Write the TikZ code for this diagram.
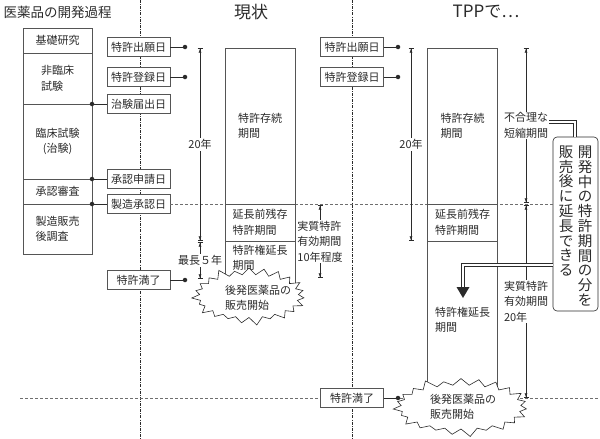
\documentclass[tikz,border=0pt]{standalone}
\usepackage{fontspec}
\setmainfont{Noto Sans CJK JP}
\usetikzlibrary{arrows.meta,positioning,shapes.symbols}
\definecolor{inkgray}{HTML}{2B2B2B}
\definecolor{boxgray}{HTML}{555555}
\definecolor{guidegray}{HTML}{6E6E6E}
\tikzset{
  every node/.style={font=\fontsize{11}{15.5}\selectfont, text=inkgray},
  stagebox/.style={draw=boxgray, line width=0.6pt, minimum width=69pt, inner sep=0pt, outer sep=0pt, align=center, fill=white},
  datebox/.style={draw=boxgray, line width=0.6pt, fill=white, minimum width=63pt, minimum height=19pt, inner sep=0pt, font=\fontsize{11}{14}\selectfont},
  barbox/.style={draw=boxgray, line width=0.6pt, minimum width=70pt, inner sep=0pt, outer sep=0pt, align=left},
  barside/.style={boxgray, line width=0.6pt},
  dimarrow/.style={inkgray, line width=0.6pt, {Bar[width=5pt]Latex[length=4pt,width=3pt]}-{Latex[length=4pt,width=3pt]Bar[width=5pt]}},
  sessionline/.style={inkgray, line width=0.9pt, dash pattern=on 3pt off 1.2pt on 0.8pt off 1.2pt},
  guide/.style={guidegray, line width=0.6pt, dash pattern=on 3pt off 2pt},
  dot/.style={circle, fill=inkgray, inner sep=0pt, minimum size=4.5pt},
  link/.style={inkgray, line width=0.6pt},
  twinline/.style={draw=inkgray, line width=0.8pt, double=white, double distance=2.2pt},
  burst/.style={starburst, starburst points=23, starburst point height=9pt, draw=inkgray, fill=white, line width=0.6pt, inner sep=0pt},
  labeltext/.style={fill=white, inner sep=1pt, align=left},
  headtext/.style={font=\fontsize{17}{20}\selectfont},
  vtext/.style={align=center, inner sep=0pt, font=\fontsize{14.5}{14.8}\selectfont}
}
\begin{document}
\begin{tikzpicture}[x=1pt,y=-1pt]
  \useasboundingbox (0,0) rectangle (600,439);
  \draw[sessionline] (140,0) -- (140,439);
  \draw[sessionline] (352,0) -- (352,439);
  \draw[guide] (20,398) -- (600,398);

  \node[anchor=west, font=\fontsize{13.5}{16}\selectfont] (title) at (0,12.5) {医薬品の開発過程};
  \node[headtext] (headnow) at (251,12) {現状};
  \node[headtext] (headtpp) at (486,12) {TPPで…};

  % development stages
  \node[stagebox, minimum height=25pt] (basic) at (57.5,40.5) {基礎研究};
  \node[stagebox, minimum height=51pt, below=0pt of basic, align=left] (nonclinical) {非臨床\\試験};
  \node[stagebox, minimum height=75pt, below=0pt of nonclinical] (clinical) {臨床試験\\(治験)};
  \node[stagebox, minimum height=25pt, below=0pt of clinical] (review) {承認審査};
  \node[stagebox, minimum height=50pt, below=0pt of review, align=left] (postmarket) {製造販売\\後調査};

  \node[datebox] (filingnow) at (138.5,47) {特許出願日};
  \node[datebox] (grantnow) at (138.5,77) {特許登録日};
  \node[datebox] (ctn) at (138.5,104) {治験届出日};
  \node[datebox] (nda) at (138.5,179) {承認申請日};
  \node[datebox] (approval) at (138.5,204) {製造承認日};
  \node[datebox] (expirynow) at (138.5,280) {特許満了};
  \node[dot] (dfilingnow) at (185,47) {};
  \node[dot] (dgrantnow) at (185,77) {};
  \node[dot] (dctn) at (nonclinical.south east) {};
  \node[dot] (dnda) at (clinical.south east) {};
  \node[dot] (dapproval) at (review.south east) {};
  \node[dot] (dexpirynow) at (185,280) {};
  \draw[link] (filingnow) -- (dfilingnow);
  \draw[link] (grantnow) -- (dgrantnow);
  \draw[link] (dctn) -- (ctn);
  \draw[link] (dnda) -- (nda);
  \draw[link] (dapproval) -- (approval);
  \draw[link] (expirynow) -- (dexpirynow);

  \node[datebox] (filingtpp) at (352,47) {特許出願日};
  \node[datebox] (granttpp) at (352,77) {特許登録日};
  \node[datebox] (expirytpp) at (352,398) {特許満了};
  \node[dot] (dfilingtpp) at (398,47) {};
  \node[dot] (dgranttpp) at (398,77) {};
  \node[dot] (dexpirytpp) at (398,398) {};
  \draw[link] (filingtpp) -- (dfilingtpp);
  \draw[link] (granttpp) -- (dgranttpp);
  \draw[link] (expirytpp) -- (dexpirytpp);

  % vertical note box
  \node[draw=inkgray, line width=0.6pt, rounded corners=4pt, fill=white, minimum width=45pt, minimum height=174pt] (shiftbox) at (575.5,224) {};
  \node[vtext] (shiftright) at (585,226) {開\\発\\中\\の\\特\\許\\期\\間\\の\\分\\を};
  \node[vtext] (shiftleft) at (566,211) {販\\売\\後\\に\\延\\長\\で\\き\\る};
  \draw[guide] (approval.east) -- (shiftbox.west |- approval.east);

  % current term bar
  \node[barbox, minimum height=156pt, anchor=north] (termnow) at (260,48) {特許存続\\期間};
  \node[barbox, minimum height=37pt, below=0pt of termnow] (restnow) {延長前残存\\特許期間};
  \node[align=left] (extnow) at (260,258) {特許権延長\\期間};
  \draw[barside] (restnow.south west) -- ++(0,45);
  \draw[barside] (restnow.south east) -- ++(0,45);
  \node[burst, minimum width=117pt, minimum height=61pt] (burstnow) at (249,296) {};
  \node[align=left] (burstnowtext) at (258,298) {後発医薬品の\\販売開始};

  \draw[dimarrow] (200,48) -- (200,241) node[labeltext, midway] (yearsnow) {20年};
  \draw[dimarrow] (200,242) -- (200,279) node[labeltext, midway] (maxfive) {最長５年};
  \draw[dimarrow] (320,205) -- (320,278) node[labeltext, midway] (effectnow) {実質特許\\有効期間\\10年程度};

  % TPP term bar
  \node[barbox, minimum height=156pt, anchor=north] (termtpp) at (462.5,48) {特許存続\\期間};
  \node[barbox, minimum height=37pt, below=0pt of termtpp] (resttpp) {延長前残存\\特許期間};
  \node[align=left] (exttpp) at (462.5,320) {特許権延長\\期間};
  \draw[barside] (resttpp.south west) -- ++(0,150);
  \draw[barside] (resttpp.south east) -- ++(0,150);
  \node[burst, minimum width=138pt, minimum height=62pt] (bursttpp) at (461,407) {};
  \node[align=left] (bursttpptext) at (463,407) {後発医薬品の\\販売開始};

  \draw[dimarrow] (411,48) -- (411,241) node[labeltext, midway] (yearstpp) {20年};
  \draw[dimarrow] (526,48) -- (526,203) node[labeltext, midway] (unfair) {不合理な\\短縮期間};
  \draw[dimarrow] (526,205) -- (526,398) node[labeltext, midway] (effecttpp) {実質特許\\有効期間\\20年};

  \coordinate (unfairbend) at (575,122);
  \draw[twinline] (unfair.east |- unfairbend) -- (unfairbend) -- (shiftbox.north -| unfairbend);
  \coordinate (turnpoint) at (463,265);
  \coordinate (tiptop) at (463,287);
  \draw[twinline] (shiftbox.west |- turnpoint) -- (turnpoint) -- (tiptop);
  \fill[inkgray] (tiptop) ++(-6.5,0) -- ++(13,0) -- ++(-6.5,11) -- cycle;
\end{tikzpicture}
\end{document}
